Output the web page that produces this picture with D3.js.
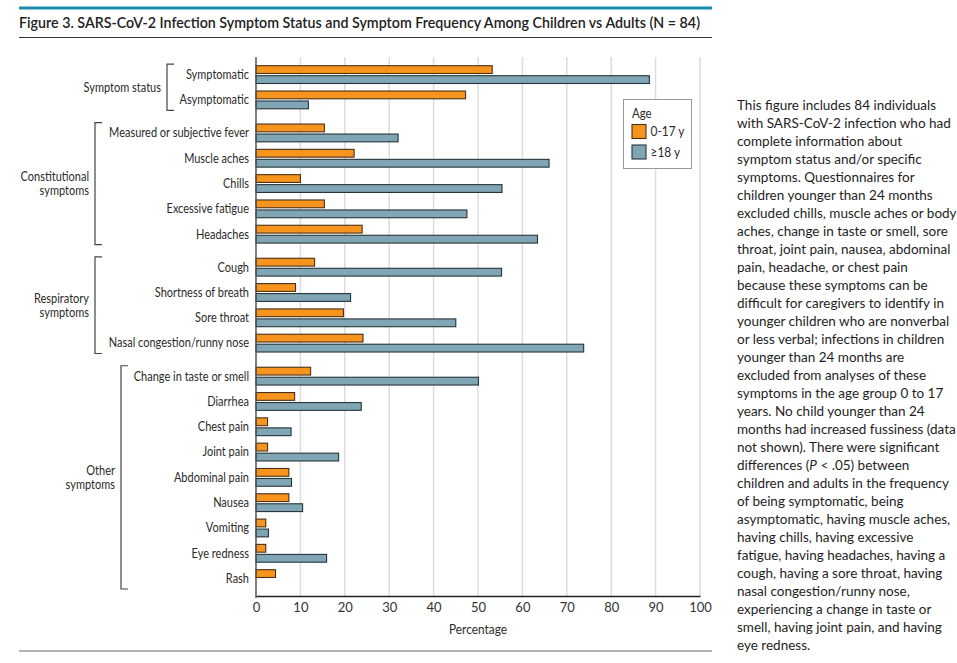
<!DOCTYPE html>
<html>
<head>
<meta charset="utf-8">
<script src="https://cdn.jsdelivr.net/npm/d3@7"></script>
<style>
  body { margin: 0; background: #fff; }
  svg text { font-family: Lato, "Noto Sans", sans-serif; fill: #2b2b2b; }
</style>
</head>
<body>
<div id="chart"></div>
<script>
const symptoms = [
  "Symptomatic", "Asymptomatic",
  "Measured or subjective fever", "Muscle aches", "Chills", "Excessive fatigue", "Headaches",
  "Cough", "Shortness of breath", "Sore throat", "Nasal congestion/runny nose",
  "Change in taste or smell", "Diarrhea", "Chest pain", "Joint pain", "Abdominal pain",
  "Nausea", "Vomiting", "Eye redness", "Rash"
];
const symptomGroup = [0, 0, 1, 1, 1, 1, 1, 2, 2, 2, 2, 3, 3, 3, 3, 3, 3, 3, 3, 3];
const groupLabels = [["Symptom status"], ["Constitutional", "symptoms"], ["Respiratory", "symptoms"], ["Other", "symptoms"]];

// percentages
const children = [53.2, 47.2, 15.4, 22.1, 10.0, 15.4, 23.9, 13.2, 8.9, 19.7, 24.1, 12.3, 8.7, 2.6, 2.6, 7.4, 7.4, 2.2, 2.2, 4.4];
const adults = [88.6, 11.8, 32.0, 66.0, 55.4, 47.5, 63.4, 55.3, 21.3, 45.0, 73.8, 50.1, 23.7, 7.9, 18.6, 8.0, 10.5, 2.8, 15.9, 0];

const seriesNames = ["0-17 y", "\u226518 y"];
const seriesColors = ["#f7941d", "#80a5b4"];
const xTicks = [0, 10, 20, 30, 40, 50, 60, 70, 80, 90, 100];

const title = "Figure 3. SARS-CoV-2 Infection Symptom Status and Symptom Frequency Among Children vs Adults (N = 84)";
const noteLines = [
  "This figure includes 84 individuals",
  "with SARS-CoV-2 infection who had",
  "complete information about",
  "symptom status and/or specific",
  "symptoms. Questionnaires for",
  "children younger than 24 months",
  "excluded chills, muscle aches or body",
  "aches, change in taste or smell, sore",
  "throat, joint pain, nausea, abdominal",
  "pain, headache, or chest pain",
  "because these symptoms can be",
  "difficult for caregivers to identify in",
  "younger children who are nonverbal",
  "or less verbal; infections in children",
  "younger than 24 months are",
  "excluded from analyses of these",
  "symptoms in the age group 0 to 17",
  "years. No child younger than 24",
  "months had increased fussiness (data",
  "not shown). There were significant",
  "differences (|P| < .05) between",
  "children and adults in the frequency",
  "of being symptomatic, being",
  "asymptomatic, having muscle aches,",
  "having chills, having excessive",
  "fatigue, having headaches, having a",
  "cough, having a sore throat, having",
  "nasal congestion/runny nose,",
  "experiencing a change in taste or",
  "smell, having joint pain, and having",
  "eye redness."
];

const W = 957, H = 663;
const condense = 0.88; // the journal font is narrower than Lato

const svg = d3.select("#chart").append("svg")
  .attr("width", W)
  .attr("height", H);

svg.append("rect").attr("width", W).attr("height", H).attr("fill", "#fff");

// narrow label helper
function label(parent, tx, ty, str, anchor) {
  return parent.append("text")
    .attr("transform", `translate(${tx}, ${ty}) scale(${condense}, 1)`)
    .attr("dy", "0.35em")
    .attr("text-anchor", anchor || "end")
    .style("font-size", "12.5px")
    .text(str);
}

// header
svg.append("rect")
  .attr("x", 19).attr("y", 6.5).attr("width", 693).attr("height", 3)
  .attr("fill", "#1a8db0");
svg.append("text")
  .attr("x", 19).attr("y", 28)
  .attr("textLength", 681)
  .attr("lengthAdjust", "spacingAndGlyphs")
  .style("font-size", "15.5px")
  .style("font-weight", 600)
  .style("fill", "#222")
  .text(title);
svg.append("line")
  .attr("x1", 19).attr("x2", 712).attr("y1", 37.5).attr("y2", 37.5)
  .attr("stroke", "#333").attr("stroke-width", 1.2);
svg.append("line")
  .attr("x1", 19).attr("x2", 712).attr("y1", 651).attr("y2", 651)
  .attr("stroke", "#666").attr("stroke-width", 1.2);

// scales
const x = d3.scaleLinear().domain([0, 100]).range([256, 700]);
const groupGap = 0.305;
const rowPos = symptoms.map((s, i) => i + symptomGroup[i] * groupGap);
const y = d3.scaleLinear()
  .domain([0, d3.max(rowPos)])
  .range([65.7, 569.7]);

const plotTop = 57, plotBottom = 596;
const barH = 7.8, barGap = 2.2;

// gridlines
svg.append("g")
  .selectAll("line")
  .data(xTicks.slice(1))
  .join("line")
  .attr("x1", d => x(d)).attr("x2", d => x(d))
  .attr("y1", plotTop).attr("y2", plotBottom)
  .attr("stroke", "#dcdcdc")
  .attr("stroke-width", 1.5);

// bars
const rows = svg.append("g")
  .selectAll("g")
  .data(symptoms)
  .join("g")
  .attr("transform", (d, i) => `translate(0, ${y(rowPos[i])})`);

rows.append("rect")
  .attr("x", x(0))
  .attr("y", 0)
  .attr("width", (d, i) => x(children[i]) - x(0))
  .attr("height", barH)
  .attr("fill", seriesColors[0])
  .attr("stroke", "#4a3018")
  .attr("stroke-width", 1.1);

rows.filter((d, i) => adults[i] > 0).append("rect")
  .attr("x", x(0))
  .attr("y", barH + barGap)
  .attr("width", d => x(adults[symptoms.indexOf(d)]) - x(0))
  .attr("height", barH)
  .attr("fill", seriesColors[1])
  .attr("stroke", "#26343a")
  .attr("stroke-width", 1.1);

rows.each(function (d) {
  label(d3.select(this), 249, barH + barGap / 2, d);
});

// x axis
const xAxis = svg.append("g")
  .attr("transform", `translate(0, ${plotBottom})`)
  .call(d3.axisBottom(x).tickValues(xTicks).tickSize(0).tickSizeOuter(0).tickPadding(7));
xAxis.select(".domain").attr("stroke", "#222").attr("stroke-width", 1.5);
xAxis.selectAll("text")
  .style("font-size", "13px")
  .style("font-family", "Lato, sans-serif")
  .style("fill", "#333");

svg.append("line")
  .attr("x1", x(0)).attr("x2", x(0))
  .attr("y1", plotTop).attr("y2", plotBottom + 2)
  .attr("stroke", "#555").attr("stroke-width", 1.5);

label(svg, x(50), 629, "Percentage", "middle").style("font-size", "13.5px");

// group brackets
const bracketX = [167, 95, 95, 121];
groupLabels.forEach((lines, g) => {
  const idx = symptomGroup.map((v, i) => v === g ? i : -1).filter(i => i >= 0);
  const y0 = y(rowPos[idx[0]]) - 1.5;
  const y1 = y(rowPos[idx[idx.length - 1]]) + 2 * barH + barGap + 1.5;
  const bx = bracketX[g];
  svg.append("path")
    .attr("d", `M${bx + 7},${y0} H${bx} V${y1} H${bx + 7}`)
    .attr("fill", "none")
    .attr("stroke", "#444")
    .attr("stroke-width", 1.2);
  const mid = (y0 + y1) / 2;
  const lh = 14;
  lines.forEach((str, k) => {
    label(svg, bx - 6, mid + (k - (lines.length - 1) / 2) * lh, str);
  });
});

// legend
const legend = svg.append("g").attr("transform", "translate(623.5, 99.5)");
legend.append("rect")
  .attr("width", 68).attr("height", 69)
  .attr("fill", "#fff")
  .attr("stroke", "#999").attr("stroke-width", 1);
label(legend, 8.5, 14, "Age", "start").style("font-size", "13px");
seriesNames.forEach((name, k) => {
  legend.append("rect")
    .attr("x", 8.5).attr("y", 25 + k * 20.5)
    .attr("width", 14).attr("height", 14)
    .attr("fill", seriesColors[k])
    .attr("stroke", k === 0 ? "#4a3018" : "#26343a")
    .attr("stroke-width", 1.1);
  label(legend, 27, 32 + k * 20.5, name, "start").style("font-size", "13.5px");
});

// note on the right
const note = svg.append("g");
noteLines.forEach((line, k) => {
  const t = note.append("text")
    .attr("x", 737)
    .attr("y", 105 + k * 18)
    .attr("dy", "0.35em")
    .style("font-size", "13.5px")
    .style("fill", "#1e1e1e");
  line.split("|").forEach((part, j) => {
    t.append("tspan")
      .style("font-style", j === 1 ? "italic" : "normal")
      .text(part);
  });
});
</script>
</body>
</html>
